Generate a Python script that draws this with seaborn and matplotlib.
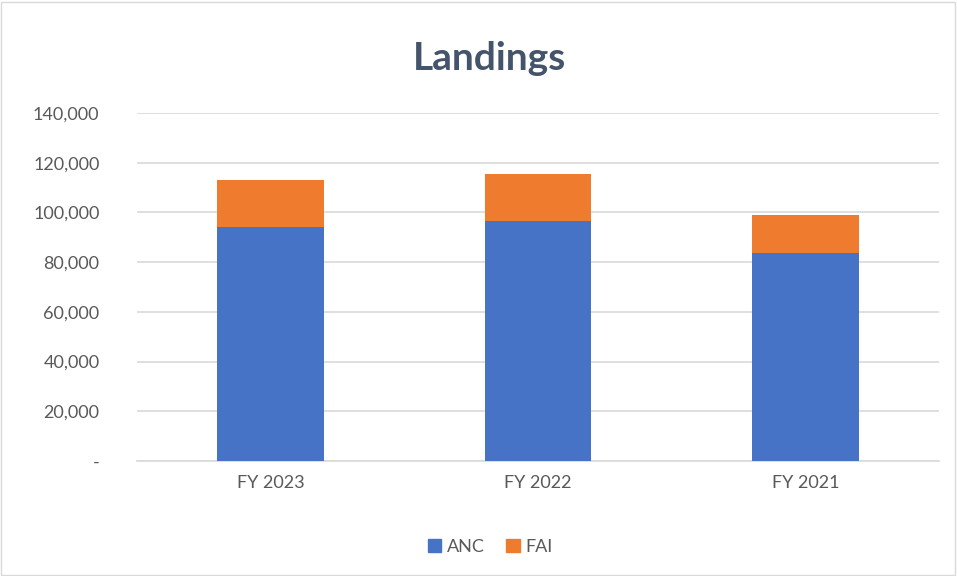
import matplotlib
matplotlib.use("Agg")
import matplotlib.pyplot as plt
import matplotlib.patches as mpatches
import seaborn as sns
import pandas as pd

categories = ["FY 2023", "FY 2022", "FY 2021"]
anc = [94000, 96400, 83800]
fai = [19000, 19100, 15300]

totals = [a + f for a, f in zip(anc, fai)]
df = pd.DataFrame({"cat": categories, "ANC": anc, "Total": totals})

sns.set_theme(style="white")
plt.rcParams["font.family"] = ["Lato", "DejaVu Sans"]

W, H = 957, 576
fig = plt.figure(figsize=(W / 100, H / 100), dpi=100)
ax = fig.add_axes([137 / W, 1 - 461 / H, (939 - 137) / W, (461 - 113) / H])

blue = "#4673C6"
orange = "#EF7B2E"

sns.barplot(data=df, x="cat", y="Total", order=categories, color=orange,
            width=0.4, ax=ax, saturation=1, zorder=3, linewidth=0)
sns.barplot(data=df, x="cat", y="ANC", order=categories, color=blue,
            width=0.4, ax=ax, saturation=1, zorder=3, linewidth=0)

ax.set_ylim(0, 140000)
ax.set_xlim(-0.5, 2.5)
yt = list(range(0, 140001, 20000))
ax.set_yticks(yt)
ax.set_yticklabels(["-"] + [f"{v:,}" for v in yt[1:]])
ax.set_xlabel("")
ax.set_ylabel("")
ax.grid(axis="y", color="#D9D9D9", linewidth=1.2, zorder=0)
ax.set_axisbelow(True)
for s in ["top", "right", "left"]:
    ax.spines[s].set_visible(False)
ax.spines["bottom"].set_color("#D9D9D9")
ax.spines["bottom"].set_linewidth(1.2)
ax.tick_params(axis="both", length=0, labelsize=13, colors="#595959")
ax.tick_params(axis="y", pad=27)
ax.tick_params(axis="x", pad=10)

fig.text(489 / W, 1 - 58 / H, "Landings", ha="center", va="center",
         fontsize=28, fontweight="bold", color="#44546A")

handles = [mpatches.Patch(color=blue, label="ANC"),
           mpatches.Patch(color=orange, label="FAI")]
fig.legend(handles=handles, loc="center", bbox_to_anchor=(490 / W, 1 - 547 / H),
           ncol=2, frameon=False, fontsize=13, handlelength=0.75,
           handleheight=0.75, handletextpad=0.3, columnspacing=1.2,
           labelcolor="#595959")

fig.patches.append(mpatches.Rectangle((1 / W, 1 / H), 1 - 3 / W, 1 - 3 / H,
                                      transform=fig.transFigure, fill=False,
                                      edgecolor="#D9D9D9", linewidth=1))

fig.savefig("out.png", dpi=100)
